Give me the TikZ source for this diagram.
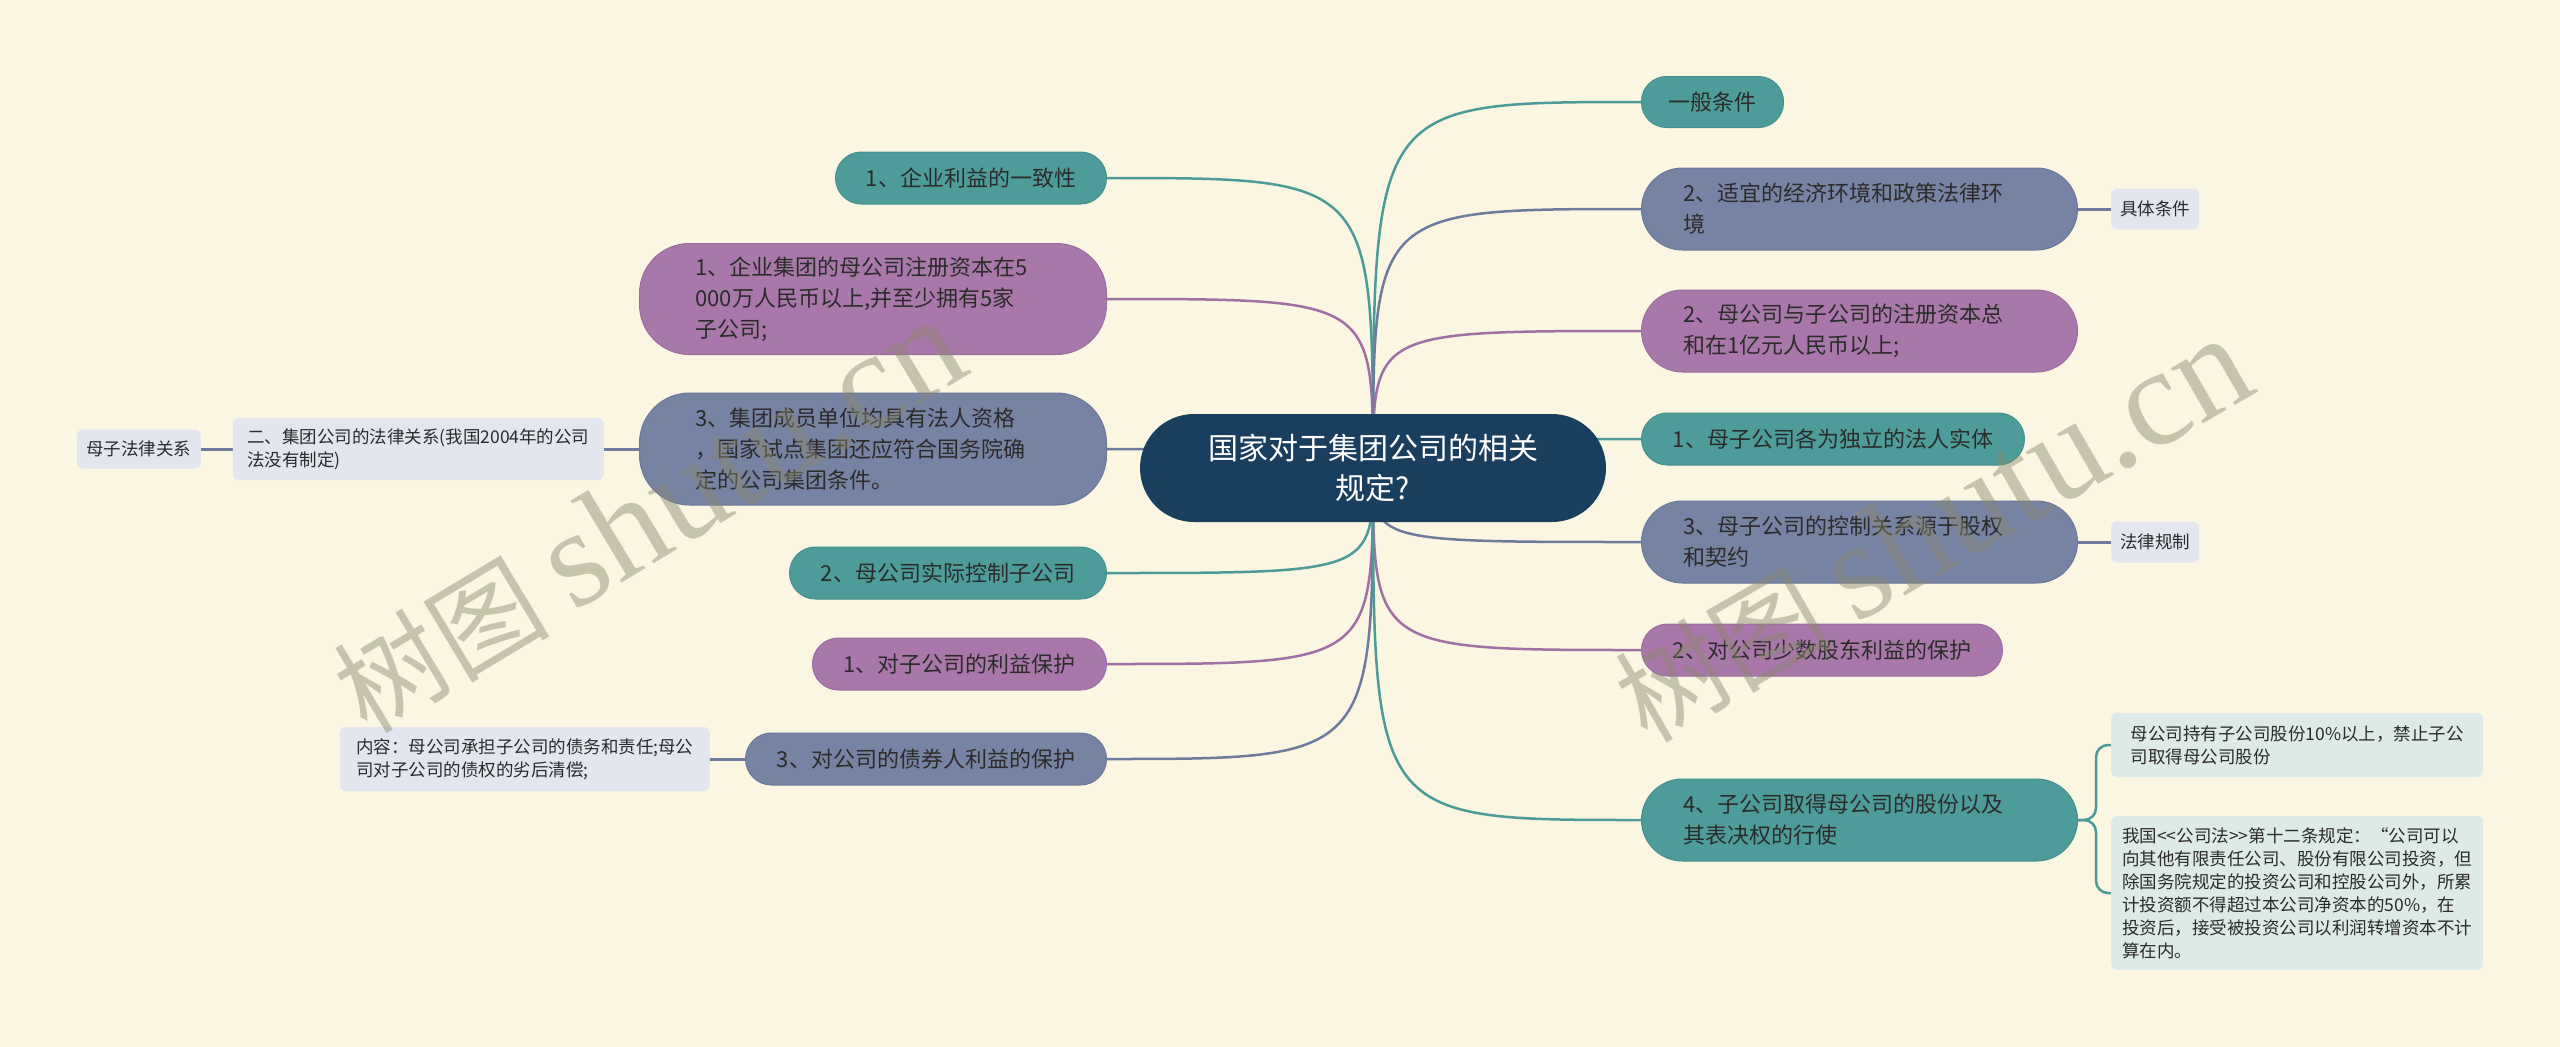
\documentclass[tikz,border=0pt]{standalone}
\usepackage{fontspec}
\setmainfont{Noto Sans CJK SC}[Ligatures=TeXOff]
\newfontfamily\wmlatin{Liberation Serif}
\usetikzlibrary{calc}
\definecolor{bgc}{HTML}{FAF6E2}
\definecolor{tealf}{HTML}{4E9C9A}
\definecolor{tealb}{HTML}{45908E}
\definecolor{teall}{HTML}{4D9B99}
\definecolor{purf}{HTML}{A978AA}
\definecolor{purb}{HTML}{9C6C9F}
\definecolor{purl}{HTML}{A070A5}
\definecolor{slaf}{HTML}{7783A3}
\definecolor{slab}{HTML}{6C789A}
\definecolor{slal}{HTML}{6F7B9C}
\definecolor{ctrf}{HTML}{1A3F5E}
\definecolor{leafs}{HTML}{E3E6EF}
\definecolor{leaft}{HTML}{DDEAE8}
\definecolor{txtc}{HTML}{2B2B2B}
\definecolor{wmc}{HTML}{8A8870}
\pgfdeclarelayer{bg}
\pgfsetlayers{bg,main}
\tikzset{
  branch/.style={rectangle, inner sep=0pt, align=left, text=txtc, line width=1pt,
    font=\fontsize{22pt}{31pt}\selectfont},
  tealnode/.style={branch, fill=tealf, draw=tealb},
  purnode/.style={branch, fill=purf, draw=purb},
  slanode/.style={branch, fill=slaf, draw=slab},
  multil/.style={inner xsep=56pt, text width=355pt, minimum width=467pt},
  multir/.style={inner xsep=42pt, text width=352pt, minimum width=436pt},
  leafnode/.style={rectangle, inner sep=0pt, align=left, text=txtc, rounded corners=6pt,
    font=\fontsize{17.5pt}{23pt}\selectfont},
  leafs/.style={leafnode, fill=leafs},
  leaft/.style={leafnode, fill=leaft},
  tline/.style={draw=teall, line width=2.5pt},
  pline/.style={draw=purl, line width=2.5pt},
  sline/.style={draw=slal, line width=2.5pt},
  sleafline/.style={draw=slal, line width=3pt},
  tleafline/.style={draw=teall, line width=2.5pt},
  wmark/.style={text=wmc, text opacity=0.45, inner sep=0pt,
    font=\fontsize{108pt}{108pt}\selectfont}
}
\begin{document}
\begin{tikzpicture}[x=1pt,y=-1pt]
\useasboundingbox (0,0) rectangle (2560,1047);

% centre
\node[rectangle, fill=ctrf, text=white, rounded corners=54pt, minimum width=466pt, minimum height=108pt,
  align=center, inner sep=0pt, font=\fontsize{30pt}{40pt}\selectfont] (C) at (1373,468)
  {国家对于集团公司的相关\\规定?};

% left branches
\node[tealnode, anchor=east, minimum width=271pt, minimum height=52pt, rounded corners=26pt] (L1) at (1107,178) {1、企业利益的一致性};
\node[purnode, multil, anchor=east, minimum height=111pt, rounded corners=50pt] (L2) at (1107,299)
  {1、企业集团的母公司注册资本在5\\000万人民币以上,并至少拥有5家\\子公司;};
\node[slanode, multil, anchor=east, minimum height=112pt, rounded corners=50pt] (L3) at (1107,449)
  {3、集团成员单位均具有法人资格\\，国家试点集团还应符合国务院确\\定的公司集团条件。};
\node[tealnode, anchor=east, minimum width=317pt, minimum height=52pt, rounded corners=26pt] (L4) at (1107,573) {2、母公司实际控制子公司};
\node[purnode, anchor=east, minimum width=294pt, minimum height=52pt, rounded corners=26pt] (L5) at (1107,664) {1、对子公司的利益保护};
\node[slanode, anchor=east, minimum width=361pt, minimum height=52pt, rounded corners=26pt] (L6) at (1107,759) {3、对公司的债券人利益的保护};

% left leaves
\node[leafs, anchor=east, minimum width=371pt, minimum height=62pt] (LL1) at (604,449)
  {二、集团公司的法律关系(我国2004年的公司\\法没有制定)};
\node[leafs, anchor=east, minimum width=124pt, minimum height=39pt] (LL2) at (201,449) {母子法律关系};
\node[leafs, anchor=east, minimum width=370pt, minimum height=64pt] (LL3) at (710,759)
  {内容：母公司承担子公司的债务和责任;母公\\司对子公司的债权的劣后清偿;};

% right branches
\node[tealnode, anchor=west, minimum width=142pt, minimum height=51pt, rounded corners=25pt] (R1) at (1641,102) {一般条件};
\node[slanode, multir, anchor=west, minimum height=82pt, rounded corners=41pt] (R2) at (1641,209)
  {2、适宜的经济环境和政策法律环\\境};
\node[purnode, multir, anchor=west, minimum height=82pt, rounded corners=41pt] (R3) at (1641,331)
  {2、母公司与子公司的注册资本总\\和在1亿元人民币以上;};
\node[tealnode, anchor=west, minimum width=383pt, minimum height=52pt, rounded corners=26pt] (R4) at (1641,439) {1、母子公司各为独立的法人实体};
\node[slanode, multir, anchor=west, minimum height=82pt, rounded corners=41pt] (R5) at (1641,542)
  {3、母子公司的控制关系源于股权\\和契约};
\node[purnode, anchor=west, minimum width=361pt, minimum height=52pt, rounded corners=26pt] (R6) at (1641,650) {2、对公司少数股东利益的保护};
\node[tealnode, multir, anchor=west, minimum height=82pt, rounded corners=41pt] (R7) at (1641,820)
  {4、子公司取得母公司的股份以及\\其表决权的行使};

% right leaves
\node[leafs, anchor=west, minimum width=88pt, minimum height=41pt] (K1) at (2111,209) {具体条件};
\node[leafs, anchor=west, minimum width=88pt, minimum height=41pt] (K2) at (2111,542) {法律规制};
\node[leaft, anchor=west, minimum width=372pt, minimum height=64pt] (KA) at (2111,745)
  {母公司持有子公司股份10\%以上，禁止子公\\司取得母公司股份};
\node[leaft, anchor=west, minimum width=372pt, minimum height=154pt] (KB) at (2111,893)
  {我国<<公司法>>第十二条规定：“公司可以\\向其他有限责任公司、股份有限公司投资，但\\除国务院规定的投资公司和控股公司外，所累\\计投资额不得超过本公司净资本的50\%，在\\投资后，接受被投资公司以利润转增资本不计\\算在内。};

\begin{pgfonlayer}{bg}
\fill[bgc] (0,0) rectangle (2560,1047);
% centre connectors
\draw[tline] (C.center) .. controls (C.center |- L1.east) .. (L1.east);
\draw[pline] (C.center) .. controls (C.center |- L2.east) .. (L2.east);
\draw[sline] (C.center) .. controls (C.center |- L3.east) .. (L3.east);
\draw[tline] (C.center) .. controls (C.center |- L4.east) .. (L4.east);
\draw[pline] (C.center) .. controls (C.center |- L5.east) .. (L5.east);
\draw[sline] (C.center) .. controls (C.center |- L6.east) .. (L6.east);
\draw[tline] (C.center) .. controls (C.center |- R1.west) .. (R1.west);
\draw[sline] (C.center) .. controls (C.center |- R2.west) .. (R2.west);
\draw[pline] (C.center) .. controls (C.center |- R3.west) .. (R3.west);
\draw[tline] (C.center) .. controls (C.center |- R4.west) .. (R4.west);
\draw[sline] (C.center) .. controls (C.center |- R5.west) .. (R5.west);
\draw[pline] (C.center) .. controls (C.center |- R6.west) .. (R6.west);
\draw[tline] (C.center) .. controls (C.center |- R7.west) .. (R7.west);
% leaf connectors
\draw[sleafline] (L3.west) -- (LL1.east);
\draw[sleafline] (LL1.west) -- (LL2.east);
\draw[sleafline] (L6.west) -- (LL3.east);
\draw[sleafline] (R2.east) -- (K1.west);
\draw[sleafline] (R5.east) -- (K2.west);
\draw[tleafline, rounded corners=12pt] (R7.east) -- ++(18,0) |- (KA.west);
\draw[tleafline, rounded corners=12pt] (R7.east) -- ++(18,0) |- (KB.west);
\end{pgfonlayer}

% watermarks
\node[wmark, rotate=31] (W1) at (648,516) {树图 {\wmlatin\fontsize{139pt}{139pt}\selectfont shutu.cn}};
\node[wmark, rotate=30] (W2) at (1932,530) {树图 {\wmlatin\fontsize{139pt}{139pt}\selectfont shutu.cn}};
\end{tikzpicture}
\end{document}
